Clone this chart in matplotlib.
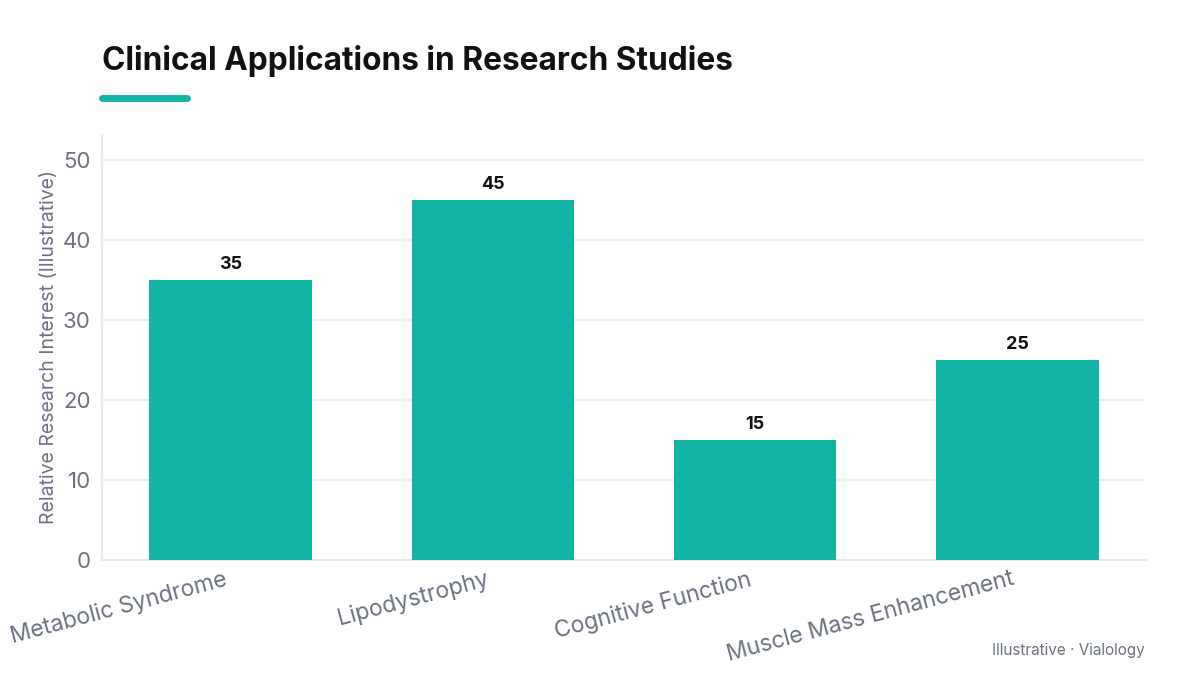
import matplotlib
matplotlib.use("Agg")
import matplotlib.pyplot as plt
from matplotlib.lines import Line2D
import matplotlib.transforms as mtransforms

categories = ["Metabolic Syndrome", "Lipodystrophy", "Cognitive Function", "Muscle Mass Enhancement"]
values = [35, 45, 15, 25]
yticks = [0, 10, 20, 30, 40, 50]

plt.rcParams['font.family'] = ['Inter', 'DejaVu Sans']
teal = "#13b3a6"
gray = "#6b7280"

fig = plt.figure(figsize=(12, 6.75), dpi=100)
ax = fig.add_axes([102/1200, 1-560/675, (1146-102)/1200, (560-135)/675])
x = list(range(len(categories)))
bars = ax.bar(x, values, width=0.62, color=teal, zorder=3)
for xi, v in zip(x, values):
    ax.annotate(str(v), (xi, v), xytext=(0, 5), textcoords="offset points",
                ha="center", va="bottom", fontsize=13, fontweight="bold", color="#111111")
ax.set_xlim(-0.49, 3.49)
ax.set_ylim(0, 53.1)
ax.set_yticks(yticks)
ax.set_yticklabels([str(t) for t in yticks], fontsize=16, color=gray)
ax.set_xticks(x)
ax.set_xticklabels(categories, rotation=15, ha="right", rotation_mode="anchor",
                   fontsize=16.5, color=gray)
ax.tick_params(axis="both", length=0, pad=8)
ax.tick_params(axis="x", pad=6)
offset = mtransforms.ScaledTranslation(-7/100, 0, fig.dpi_scale_trans)
for lbl in ax.get_xticklabels():
    lbl.set_transform(lbl.get_transform() + offset)
ax.grid(axis="y", color="#ececec", linewidth=1.2, zorder=0)
for s in ["top", "right"]:
    ax.spines[s].set_visible(False)
for s in ["left", "bottom"]:
    ax.spines[s].set_color("#e5e7eb")
    ax.spines[s].set_linewidth(1.2)
ax.set_ylabel("Relative Research Interest (Illustrative)", fontsize=14, color=gray, labelpad=3)

fig.text(102/1200, 1-61/675, "Clinical Applications in Research Studies", fontsize=22.8,
         fontweight="bold", color="#111111", ha="left", va="center")
fig.add_artist(Line2D([102/1200, 187/1200], [1-98/675, 1-98/675], color=teal,
                      linewidth=5, solid_capstyle="round", transform=fig.transFigure))
fig.text(1145/1200, 1-650/675, "Illustrative · Vialology", fontsize=11, color=gray,
         ha="right", va="center")
fig.savefig("out.png", dpi=100, facecolor="white")
